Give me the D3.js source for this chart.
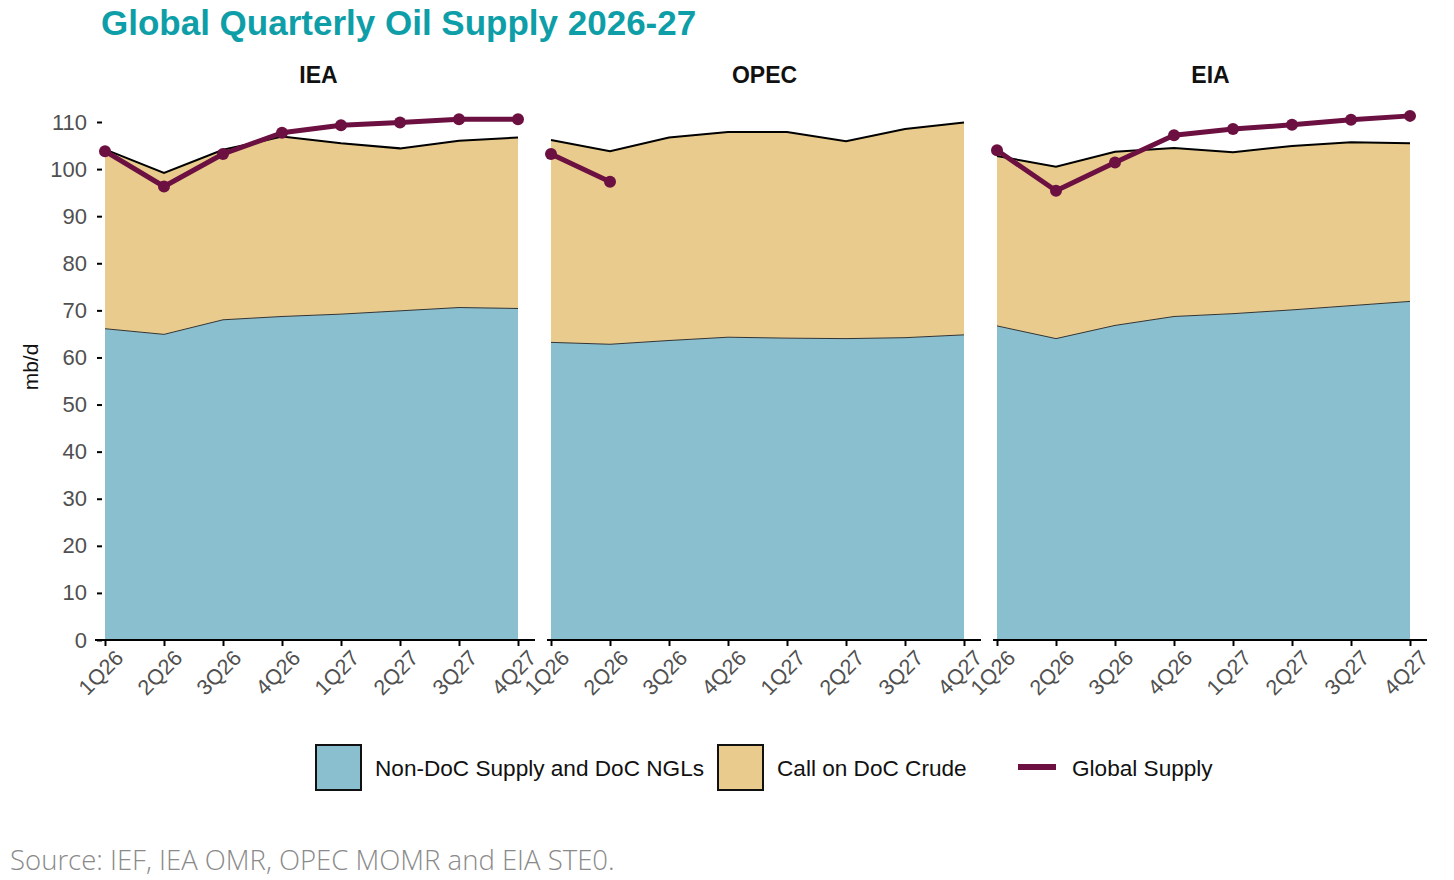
<!DOCTYPE html>
<html>
<head>
<meta charset="utf-8">
<script src="https://cdn.jsdelivr.net/npm/d3@7"></script>
<style>
  body { margin: 0; background: #fff; }
  svg { display: block; font-family: "Liberation Sans", Arial, sans-serif; }
</style>
</head>
<body>
<svg width="1454" height="880"></svg>
<script>
'use strict';

const quarters = ['1Q26', '2Q26', '3Q26', '4Q26', '1Q27', '2Q27', '3Q27', '4Q27'];
const agencies = ['IEA', 'OPEC', 'EIA'];

// Non-DoC Supply and DoC NGLs (mb/d)
const nonDocIEA  = [66.1, 64.9, 68.0, 68.7, 69.2, 69.9, 70.6, 70.4];
const nonDocOPEC = [63.2, 62.8, 63.6, 64.3, 64.1, 64.0, 64.2, 64.8];
const nonDocEIA  = [66.7, 64.0, 66.8, 68.7, 69.3, 70.1, 71.0, 71.9];

// Call on DoC Crude (mb/d)
const callIEA  = [38.1, 34.3, 36.1, 38.2, 36.3, 34.5, 35.4, 36.3];
const callOPEC = [43.0, 41.0, 43.1, 43.6, 43.8, 41.9, 44.3, 45.1];
const callEIA  = [36.1, 36.5, 36.9, 35.8, 34.3, 34.8, 34.7, 33.6];

// Global Supply (mb/d), OPEC only reports the first two quarters
const supplyIEA  = [103.8, 96.3, 103.2, 107.7, 109.3, 109.9, 110.6, 110.6];
const supplyOPEC = [103.2, 97.3];
const supplyEIA  = [104.0, 95.4, 101.4, 107.2, 108.5, 109.4, 110.5, 111.3];

const yTicks = [0, 10, 20, 30, 40, 50, 60, 70, 80, 90, 100, 110];

const series = {
  IEA:  {nonDoc: nonDocIEA,  call: callIEA,  supply: supplyIEA},
  OPEC: {nonDoc: nonDocOPEC, call: callOPEC, supply: supplyOPEC},
  EIA:  {nonDoc: nonDocEIA,  call: callEIA,  supply: supplyEIA}
};

const blue = '#89bfce';
const tan = '#e9cb8d';
const maroon = '#6b1040';

const svg = d3.select('svg');

const y = d3.scaleLinear().domain([0, 110]).range([640, 122]);
const panelLeft = [105, 551, 997];
const panelWidth = 413;

svg.append('text')
  .attr('x', 101).attr('y', 35)
  .attr('fill', '#0e9ea8')
  .attr('font-size', 35).attr('font-weight', 'bold')
  .text('Global Quarterly Oil Supply 2026-27');

// y axis
const yAxis = svg.append('g')
  .attr('transform', 'translate(102,0)')
  .call(d3.axisLeft(y).tickValues(yTicks).tickSize(5).tickPadding(10));
yAxis.select('.domain').remove();
yAxis.selectAll('.tick line').attr('stroke', '#000').attr('stroke-width', 2);
yAxis.selectAll('.tick text').attr('font-size', 22).attr('fill', '#505050')
  .attr('font-family', '"Liberation Sans", Arial, sans-serif');

svg.append('text')
  .attr('transform', 'translate(38,367) rotate(-90)')
  .attr('text-anchor', 'middle')
  .attr('font-size', 21).attr('fill', '#111')
  .text('mb/d');

agencies.forEach((name, i) => {
  const d = series[name];
  const x0 = panelLeft[i];
  const x = d3.scalePoint().domain(quarters).range([x0, x0 + panelWidth]);

  const rows = quarters.map((q, k) => ({
    q: q,
    nonDoc: d.nonDoc[k],
    total: d.nonDoc[k] + d.call[k]
  }));

  const g = svg.append('g');

  g.append('path')
    .datum(rows)
    .attr('fill', tan)
    .attr('d', d3.area().x(r => x(r.q)).y0(r => y(r.nonDoc)).y1(r => y(r.total)));

  g.append('path')
    .datum(rows)
    .attr('fill', blue)
    .attr('d', d3.area().x(r => x(r.q)).y0(y(0)).y1(r => y(r.nonDoc)));

  g.append('path')
    .datum(rows)
    .attr('fill', 'none').attr('stroke', '#333').attr('stroke-width', 1)
    .attr('d', d3.line().x(r => x(r.q)).y(r => y(r.nonDoc)));

  g.append('path')
    .datum(rows)
    .attr('fill', 'none').attr('stroke', '#000').attr('stroke-width', 2)
    .attr('d', d3.line().x(r => x(r.q)).y(r => y(r.total)));

  const pts = d.supply.map((v, k) => ({q: quarters[k], v: v}));
  g.append('path')
    .datum(pts)
    .attr('fill', 'none').attr('stroke', maroon).attr('stroke-width', 5)
    .attr('stroke-linejoin', 'round')
    .attr('d', d3.line().x(p => x(p.q)).y(p => y(p.v)));
  g.selectAll('circle')
    .data(pts)
    .join('circle')
    .attr('cx', p => x(p.q)).attr('cy', p => y(p.v))
    .attr('r', 6).attr('fill', maroon);

  // x axis
  const ax = svg.append('g')
    .attr('transform', `translate(0,${y(0)})`)
    .call(d3.axisBottom(x).tickSize(6).tickPadding(4));
  ax.select('.domain').remove();
  ax.insert('line', ':first-child')
    .attr('x1', i === 0 ? 95 : x0 - 4).attr('x2', x0 + panelWidth + 17)
    .attr('stroke', '#000').attr('stroke-width', 2);
  ax.selectAll('.tick line').attr('stroke', '#000').attr('stroke-width', 2);
  ax.selectAll('.tick text')
    .attr('font-size', 21.5).attr('fill', '#505050')
    .attr('font-family', '"Liberation Sans", Arial, sans-serif')
    .attr('text-anchor', 'end')
    .attr('dy', null)
    .attr('transform', 'translate(10,10) rotate(-45)')
    .attr('y', 13).attr('x', 0);

  svg.append('text')
    .attr('x', x0 + panelWidth / 2 + 7).attr('y', 83)
    .attr('text-anchor', 'middle')
    .attr('font-size', 23).attr('font-weight', 'bold').attr('fill', '#111')
    .text(name);
});

// legend
const legend = svg.append('g');
const legendItems = [
  {label: 'Non-DoC Supply and DoC NGLs', kind: 'box', fill: blue, x: 316},
  {label: 'Call on DoC Crude', kind: 'box', fill: tan, x: 718},
  {label: 'Global Supply', kind: 'line', fill: maroon, x: 1018}
];
legendItems.forEach(it => {
  if (it.kind === 'box') {
    legend.append('rect')
      .attr('x', it.x).attr('y', 745).attr('width', 45).attr('height', 45)
      .attr('fill', it.fill).attr('stroke', '#111').attr('stroke-width', 2);
    legend.append('text')
      .attr('x', it.x + 59).attr('y', 776)
      .attr('font-size', 22.6).attr('fill', '#111')
      .text(it.label);
  } else {
    legend.append('line')
      .attr('x1', it.x).attr('x2', it.x + 38).attr('y1', 767).attr('y2', 767)
      .attr('stroke', it.fill).attr('stroke-width', 6);
    legend.append('text')
      .attr('x', it.x + 54).attr('y', 776)
      .attr('font-size', 22.6).attr('fill', '#111')
      .text(it.label);
  }
});

const source = svg.append('text')
  .attr('x', 10).attr('y', 870)
  .attr('font-size', 24).attr('fill', '#8a8a8a')
  .attr('font-family', '"Open Sans", Lato, sans-serif')
  .attr('font-weight', 300)
  .text('Source: IEF, IEA OMR, OPEC MOMR and EIA STE0.');
// fit the source line to the width it takes in the original
const srcLen = source.node().getComputedTextLength();
source.attr('font-size', 24 * 605 / srcLen);
</script>
</body>
</html>
